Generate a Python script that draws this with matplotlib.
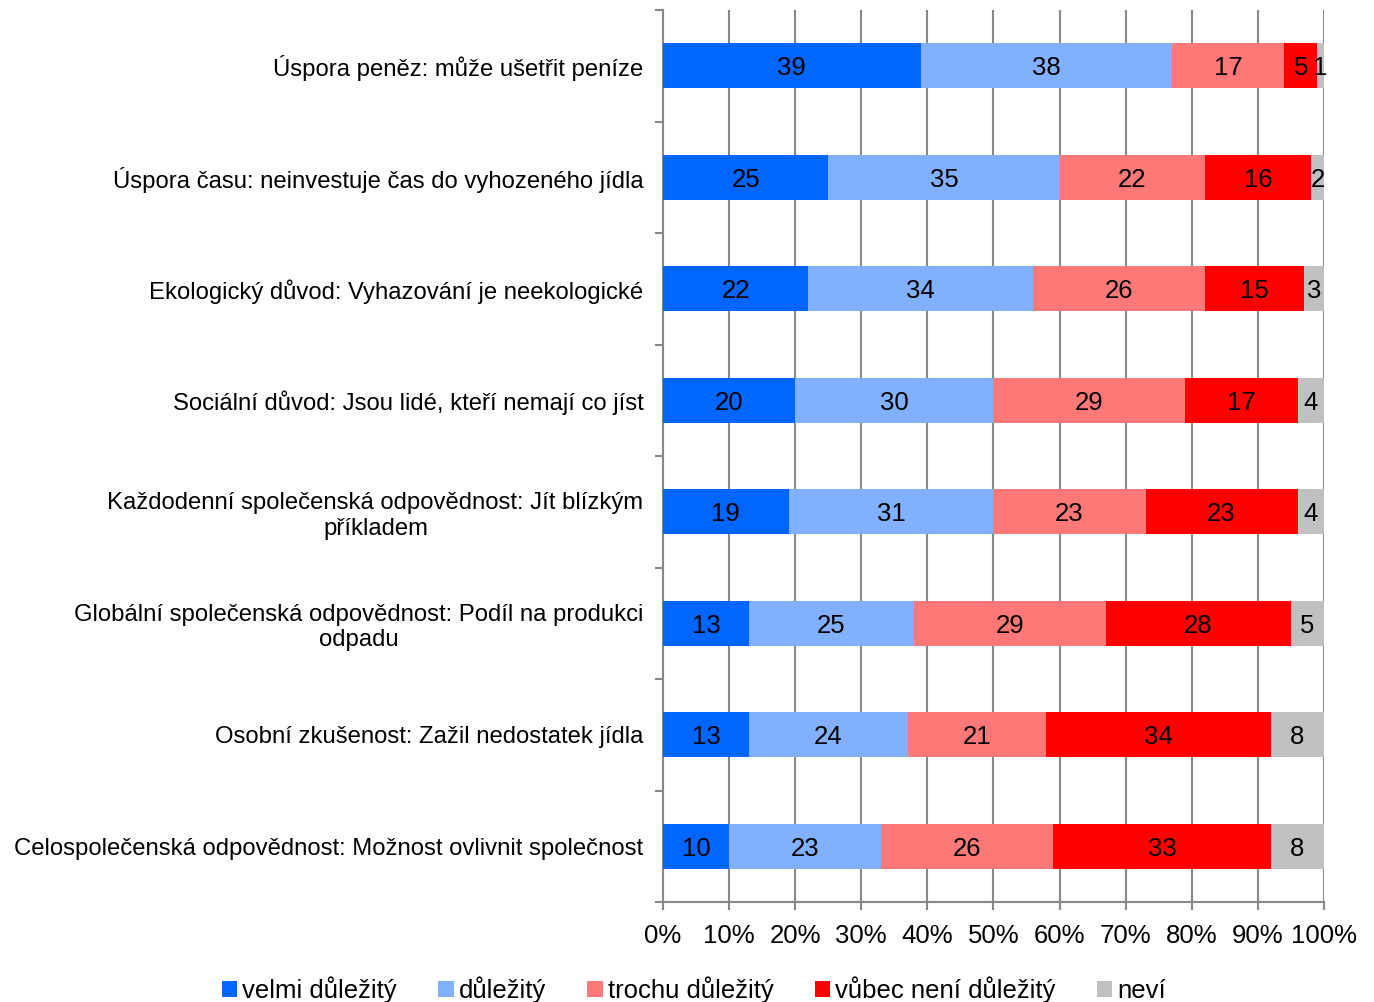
import numpy as np
import matplotlib.pyplot as plt
from matplotlib.ticker import FuncFormatter

plt.rcParams['font.family'] = ['Liberation Sans', 'DejaVu Sans']

categories = [
    'Úspora peněz: může ušetřit peníze',
    'Úspora času: neinvestuje čas do vyhozeného jídla',
    'Ekologický důvod: Vyhazování je neekologické',
    'Sociální důvod: Jsou lidé, kteří nemají co jíst',
    'Každodenní společenská odpovědnost: Jít blízkým\npříkladem',
    'Globální společenská odpovědnost: Podíl na produkci\nodpadu',
    'Osobní zkušenost: Zažil nedostatek jídla',
    'Celospolečenská odpovědnost: Možnost ovlivnit společnost',
]
series_names = ['velmi důležitý', 'důležitý', 'trochu důležitý', 'vůbec není důležitý', 'neví']
velmi = [39, 25, 22, 20, 19, 13, 13, 10]
dulezity = [38, 35, 34, 30, 31, 25, 24, 23]
trochu = [17, 22, 26, 29, 23, 29, 21, 26]
vubec = [5, 16, 15, 17, 23, 28, 34, 33]
nevi = [1, 2, 3, 4, 4, 5, 8, 8]
colors = ['#0066FF', '#80B0FF', '#FF7878', '#FF0000', '#C0C0C0']

data = np.array([velmi, dulezity, trochu, vubec, nevi], dtype=float)
fig = plt.figure(figsize=(13.74, 10.02), dpi=100)
ax = fig.add_axes([0.4825, 0.0998, 0.4811, 0.8902])

y = np.arange(len(categories))
left = np.zeros(len(categories))
for vals, name, col in zip(data, series_names, colors):
    bars = ax.barh(y, vals, left=left, height=0.4, color=col, label=name, zorder=3)
    for b, v in zip(bars, vals):
        ax.text(b.get_x() + b.get_width() / 2, b.get_y() + b.get_height() / 2,
                f'{int(v)}', ha='center', va='center_baseline', fontsize=18.5, zorder=4)
    left += vals

ax.set_xlim(0, 100)
ax.set_ylim(len(categories) - 0.5, -0.5)
ax.set_xticks(np.arange(0, 101, 10))
ax.xaxis.set_major_formatter(FuncFormatter(lambda v, p: f'{int(v)}%'))
ax.grid(axis='x', color='#888888', linewidth=1.5, zorder=0)
ax.set_axisbelow(True)

ax.set_yticks(y)
ax.set_yticklabels(categories, fontsize=17.2, multialignment='center')
ax.set_yticks(np.arange(-0.5, len(categories), 1), minor=True)
ax.tick_params(axis='y', which='major', length=0, pad=14)
ax.tick_params(axis='y', which='minor', length=6, width=1.5, color='#888888')
ax.tick_params(axis='x', length=6, width=1.5, color='#888888', labelsize=18.5, pad=10)

for s in ['top', 'right']:
    ax.spines[s].set_visible(False)
for s in ['left', 'bottom']:
    ax.spines[s].set_color('#888888')
    ax.spines[s].set_linewidth(1.5)

fig.legend(loc='center', bbox_to_anchor=(0.505, 0.012), ncol=5, frameon=False,
           fontsize=18.5, handlelength=0.6, handleheight=0.6, handletextpad=0.2,
           columnspacing=1.6, borderaxespad=0)

fig.savefig('out.png', dpi=100)
